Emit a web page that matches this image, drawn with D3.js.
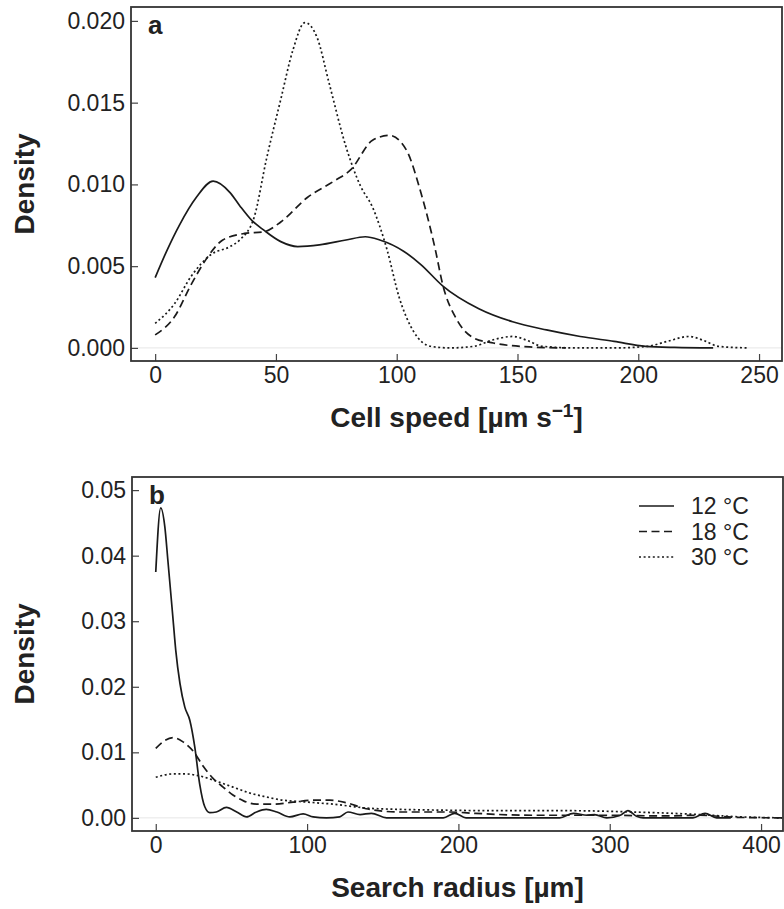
<!DOCTYPE html>
<html>
<head>
<meta charset="utf-8">
<script src="https://cdn.jsdelivr.net/npm/d3@7"></script>
<style>
  body { margin: 0; background: #fff; }
  text { font-family: "Liberation Sans", Arial, sans-serif; fill: #222; }
</style>
</head>
<body>
<div id="chart"></div>
<script>
// panel a: cell speed densities
var speedX12 = [0, 5, 10, 17, 24, 31, 35, 40, 45, 52, 59, 68, 79, 87, 93, 103, 110, 119, 134, 148, 162, 176, 190, 203, 215, 231];
var speed12 = [0.0043, 0.0060, 0.0075, 0.0092, 0.0102, 0.0095, 0.0087, 0.0078, 0.0072, 0.0065, 0.0062, 0.0063, 0.0066, 0.0068, 0.0066, 0.0059, 0.0051, 0.0038, 0.0024, 0.0016, 0.0011, 0.0007, 0.0004, 0.0001, 0.00003, 0];
var speedX18 = [0, 8, 15, 21, 28, 37, 45, 52, 63, 74, 81, 90, 97, 104, 110, 116, 119, 125, 132, 140, 155, 170];
var speed18 = [0.0008, 0.0019, 0.0039, 0.0054, 0.0066, 0.0070, 0.0071, 0.0077, 0.0092, 0.0102, 0.0109, 0.0127, 0.0130, 0.0121, 0.0095, 0.0060, 0.0039, 0.0017, 0.0006, 0.0003, 0.00006, 0];
var speedX30 = [0, 8, 15, 23, 31, 35, 41, 46, 52, 57, 62, 67, 72, 79, 85, 90, 96, 101, 107, 114, 122, 132, 140, 148, 155, 160, 175, 190, 204, 212, 221, 228, 233, 245];
var speed30 = [0.0015, 0.0027, 0.0044, 0.0057, 0.0062, 0.0066, 0.0080, 0.0115, 0.0152, 0.0182, 0.0199, 0.0190, 0.0162, 0.0123, 0.0099, 0.0086, 0.0060, 0.0031, 0.0010, 0.0001, 0, 0.0001, 0.0005, 0.0007, 0.0004, 0.0001, 0, 0, 0.0001, 0.0004, 0.0007, 0.0004, 0.0001, 0];

// panel b: search radius densities
var radX12 = [0, 3.3, 6, 8, 11.5, 13.2, 16, 19.2, 22.5, 25.8, 29, 32.4, 35.7, 40, 46.7, 53.5, 60, 66.5, 73, 80, 88.6, 97.4, 104, 112.8, 121.6, 127, 135, 142.5, 152.5, 175, 190, 197.6, 205, 230, 267, 276, 285, 290, 298, 307, 312, 317.7, 322, 340, 355, 363, 370.6, 380];
var rad12 = [0.0375, 0.0473, 0.0444, 0.0393, 0.0301, 0.0256, 0.0205, 0.0169, 0.0149, 0.0108, 0.0052, 0.0017, 0.0008, 0.0009, 0.0016, 0.0009, 0.00015, 0.0009, 0.0013, 0.0009, 0.00015, 0.0006, 0.00015, 0, 0.00015, 0.0009, 0.0005, 0.0007, 0, 0, 0, 0.0007, 0, 0, 0, 0.0007, 0.0004, 0.0005, 0, 0.0004, 0.0011, 0.00025, 0, 0, 0, 0.0007, 0, 0];
var radX18 = [0, 6, 11.5, 18, 25, 31, 38, 44.5, 51, 58, 66.5, 77.5, 90.7, 104, 115, 126, 139, 161, 194, 210, 249, 293, 337, 359, 382, 414];
var rad18 = [0.0106, 0.0118, 0.01225, 0.0116, 0.0101, 0.0080, 0.0060, 0.0047, 0.0035, 0.0026, 0.0021, 0.0021, 0.0024, 0.0027, 0.0027, 0.0023, 0.0014, 0.0009, 0.0009, 0.0007, 0.0004, 0.0004, 0.0003, 0.0004, 0.0001, 0];
var radX30 = [0, 11.5, 20, 29, 40, 51, 62, 73, 84, 95, 106, 117, 128, 139, 161, 183, 227, 271, 315, 360, 382, 414];
var rad30 = [0.0062, 0.0067, 0.0067, 0.0064, 0.0056, 0.0047, 0.0038, 0.0032, 0.0027, 0.0025, 0.0023, 0.0021, 0.0018, 0.0015, 0.0013, 0.0012, 0.0011, 0.0011, 0.0009, 0.0005, 0.0002, 0];

var legendLabels = ["12 \u00B0C", "18 \u00B0C", "30 \u00B0C"];
var dashes = [null, "8,4.5", "2,2.6"];

var speedTicksX = [0, 50, 100, 150, 200, 250];
var speedTicksY = [0, 0.005, 0.010, 0.015, 0.020];
var radTicksX = [0, 100, 200, 300, 400];
var radTicksY = [0, 0.01, 0.02, 0.03, 0.04, 0.05];

var svg = d3.select("#chart").append("svg")
  .attr("width", 784)
  .attr("height", 909);

function zip(xs, ys) {
  return xs.map(function (v, i) { return [v, ys[i]]; });
}

function panel(opts) {
  var x = d3.scaleLinear().domain(opts.xDomain).range([opts.left, opts.right]);
  var y = d3.scaleLinear().domain(opts.yDomain).range([opts.bottom, opts.top]);

  // faint zero line
  svg.append("line")
    .attr("x1", opts.left).attr("x2", opts.right)
    .attr("y1", y(0)).attr("y2", y(0))
    .attr("stroke", "#e6e6e6").attr("stroke-width", 1);

  var line = d3.line()
    .x(function (d) { return x(d[0]); })
    .y(function (d) { return y(d[1]); })
    .curve(d3.curveMonotoneX);

  opts.series.forEach(function (s, i) {
    svg.append("path")
      .datum(s)
      .attr("d", line)
      .attr("fill", "none")
      .attr("stroke", "#1a1a1a")
      .attr("stroke-width", 1.7)
      .attr("stroke-dasharray", dashes[i]);
  });

  var xAxis = svg.append("g")
    .attr("transform", "translate(0," + opts.bottom + ")")
    .call(d3.axisBottom(x).tickValues(opts.xTicks).tickSize(-7).tickPadding(6).tickFormat(d3.format("d")));
  var yAxis = svg.append("g")
    .attr("transform", "translate(" + opts.left + ",0)")
    .call(d3.axisLeft(y).tickValues(opts.yTicks).tickSize(-7).tickPadding(6).tickFormat(d3.format(opts.yFormat)));
  [xAxis, yAxis].forEach(function (g) {
    g.select(".domain").remove();
    g.selectAll(".tick line").attr("stroke", "#444").attr("stroke-width", 1.2);
    g.selectAll(".tick text").attr("font-size", 23).attr("font-family", "Liberation Sans, Arial, sans-serif").attr("fill", "#222");
  });

  svg.append("rect")
    .attr("x", opts.left).attr("y", opts.top)
    .attr("width", opts.right - opts.left).attr("height", opts.bottom - opts.top)
    .attr("fill", "none").attr("stroke", "#333").attr("stroke-width", 1.8);

  svg.append("text")
    .attr("x", opts.left + 17).attr("y", opts.top + 27)
    .attr("font-size", 26).attr("font-weight", "bold")
    .text(opts.tag);

  svg.append("text")
    .attr("transform", "translate(34," + (opts.top + opts.bottom) / 2 + ") rotate(-90)")
    .attr("text-anchor", "middle")
    .attr("font-size", 28).attr("font-weight", "bold")
    .text("Density");

  var title = svg.append("text")
    .attr("x", (opts.left + opts.right) / 2).attr("y", opts.bottom + 66)
    .attr("text-anchor", "middle")
    .attr("font-size", 28).attr("font-weight", "bold");
  opts.title(title);
}

panel({
  left: 131, right: 782, top: 7, bottom: 361,
  xDomain: [-10, 259.5], yDomain: [-0.0008, 0.02085],
  xTicks: speedTicksX, yTicks: speedTicksY, yFormat: ".3f",
  series: [zip(speedX12, speed12), zip(speedX18, speed18), zip(speedX30, speed30)],
  tag: "a",
  title: function (t) {
    t.append("tspan").text("Cell speed [\u00B5m s");
    t.append("tspan").attr("font-size", 19).attr("dy", -10).text("\u22121");
    t.append("tspan").attr("dy", 10).text("]");
  }
});

panel({
  left: 132, right: 783, top: 477, bottom: 831,
  xDomain: [-15.7, 414.5], yDomain: [-0.002, 0.052],
  xTicks: radTicksX, yTicks: radTicksY, yFormat: ".2f",
  series: [zip(radX12, rad12), zip(radX18, rad18), zip(radX30, rad30)],
  tag: "b",
  title: function (t) { t.text("Search radius [\u00B5m]"); }
});

// legend in panel b
var legend = svg.append("g").attr("transform", "translate(639,506)");
legendLabels.forEach(function (lab, i) {
  var row = legend.append("g").attr("transform", "translate(0," + i * 25.5 + ")");
  row.append("line")
    .attr("x1", 0).attr("x2", 35).attr("y1", 0).attr("y2", 0)
    .attr("stroke", "#1a1a1a").attr("stroke-width", 1.7)
    .attr("stroke-dasharray", dashes[i]);
  row.append("text")
    .attr("x", 52).attr("y", 8)
    .attr("font-size", 23)
    .text(lab);
});
</script>
</body>
</html>
